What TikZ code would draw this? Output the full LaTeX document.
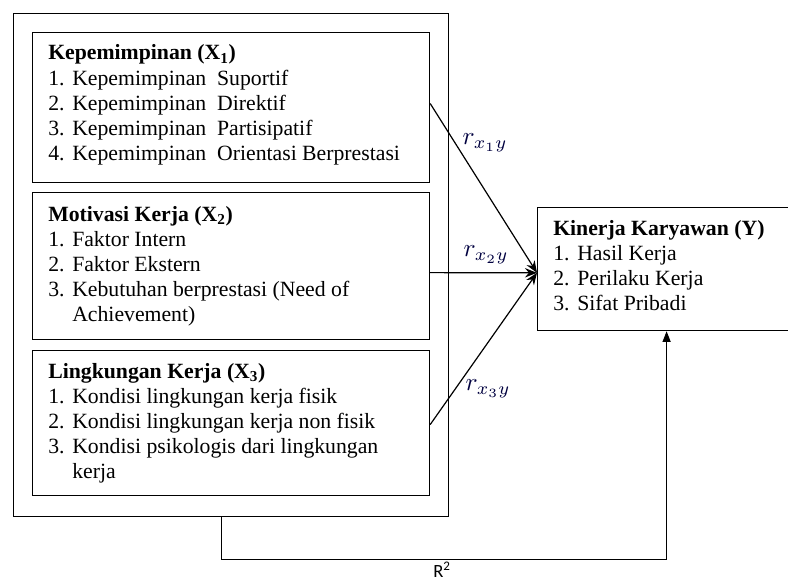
\documentclass[tikz,border=0pt]{standalone}
\usepackage{fontspec}
\setmainfont{Liberation Serif}
\newfontfamily\rsqfont{Carlito}
\usetikzlibrary{calc,arrows.meta}
\newcommand{\li}[2]{\makebox[18pt][l]{#1}#2}
\newcommand{\blk}[1]{\begin{tabular}[t]{@{}l@{}}#1\end{tabular}}
\newcommand{\rlab}[1]{\scalebox{1.9}{$r_{x_{#1}y}$}}
\begin{document}
\begin{tikzpicture}[x=0.75pt,y=-0.75pt,
  box/.style={draw, line width=0.9pt, anchor=north west, inner sep=0pt},
  txt/.style={anchor=base west, inner sep=0pt, font=\fontsize{16.3}{18.9}\selectfont},
  lbl/.style={inner sep=0pt, text=black!75!blue},
  conn/.style={line width=0.9pt},
  arr/.style={line width=0.9pt, -{Stealth[length=9pt,width=7pt]}},
  arrb/.style={line width=0.9pt, -{Triangle[length=8pt,width=6pt]}}]
\clip (0,0) rectangle (788,581);
\fill[white] (0,0) rectangle (788,581);
% boxes
\node[box, minimum width=326.25pt, minimum height=377.25pt] (outer) at (13,13) {};
\node[box, minimum width=297.75pt, minimum height=112.5pt] (b1) at (32,32) {};
\node[box, minimum width=297.75pt, minimum height=110.25pt] (b2) at (32,192) {};
\node[box, minimum width=297.75pt, minimum height=108.75pt] (b3) at (32,350) {};
\node[box, minimum width=193.5pt, minimum height=92.25pt] (Y) at (537,207) {};
% texts
\node[txt] (t1) at (48,60) {\blk{\textbf{Kepemimpinan (X\textsubscript{1})}\\
  \li{1.}{Kepemimpinan\ \ Suportif}\\
  \li{2.}{Kepemimpinan\ \ Direktif}\\
  \li{3.}{Kepemimpinan\ \ Partisipatif}\\
  \li{4.}{Kepemimpinan\ \ Orientasi Berprestasi}}};
\node[txt] (t2) at (48,221) {\blk{\textbf{Motivasi Kerja\ (X\textsubscript{2})}\\
  \li{1.}{Faktor Intern}\\
  \li{2.}{Faktor Ekstern}\\
  \li{3.}{Kebutuhan\ berprestasi (Need of}\\
  \li{}{Achievement)}}};
\node[txt] (t3) at (48,378) {\blk{\textbf{Lingkungan Kerja (X\textsubscript{3})}\\
  \li{1.}{Kondisi lingkungan\ kerja fisik}\\
  \li{2.}{Kondisi lingkungan\ kerja non fisik}\\
  \li{3.}{Kondisi psikologis dari lingkungan}\\
  \li{}{kerja}}};
\node[txt] (ty) at (553,235) {\blk{\textbf{Kinerja Karyawan (Y)}\\
  \li{1.}{Hasil Kerja}\\
  \li{2.}{Perilaku Kerja}\\
  \li{3.}{Sifat Pribadi}}};
% connectors
\coordinate (yin) at ($(Y.north west)!0.53!(Y.south west)$);
\draw[arr] ($(b1.north east)!0.473!(b1.south east)$) -- (yin);
\draw[arr] ($(b2.north east)!0.544!(b2.south east)$) -- (yin);
\draw[arr] ($(b3.north east)!0.51!(b3.south east)$) -- (yin);
\coordinate (fb) at ($(outer.south west)!0.478!(outer.south east)$);
\draw[arrb] (fb) -- ++(0,42) -| (Y.south);
% labels
\node[lbl] (r1) at (485,143) {\rlab{1}};
\node[lbl] (r2) at (486,255) {\rlab{2}};
\node[lbl] (r3) at (488,389) {\rlab{3}};
\node[anchor=north, inner sep=0pt, font=\rsqfont\fontsize{14}{16}\selectfont] (r2lab) at (442,562) {R\textsuperscript{2}};
\end{tikzpicture}
\end{document}
